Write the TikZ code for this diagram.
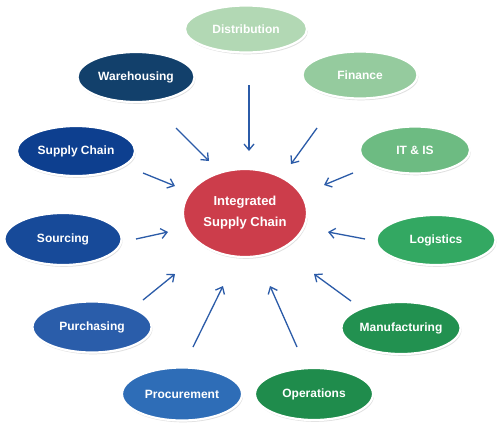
\documentclass[tikz,border=0pt]{standalone}
\usepackage{fontspec}
\setmainfont{Liberation Sans}
\usetikzlibrary{shapes.geometric,arrows.meta,shadows}
\definecolor{cDist}{HTML}{B2D8B4}
\definecolor{cFin}{HTML}{95CB9E}
\definecolor{cIT}{HTML}{6DBB82}
\definecolor{cLog}{HTML}{33A862}
\definecolor{cMan}{HTML}{229150}
\definecolor{cOps}{HTML}{1F8C4C}
\definecolor{cProc}{HTML}{2E6DB7}
\definecolor{cPurch}{HTML}{2A5DAA}
\definecolor{cSrc}{HTML}{174A99}
\definecolor{cSC}{HTML}{0D3F8F}
\definecolor{cWare}{HTML}{12406B}
\definecolor{cCenter}{HTML}{CC3D4B}
\definecolor{cArrow}{HTML}{2B5BA8}
\begin{document}
\begin{tikzpicture}[x=1pt,y=-1pt,
  bubble/.style={ellipse, draw=white, line width=2.2pt, inner sep=0pt,
    text=white, font=\fontsize{12}{14}\selectfont\bfseries,
    minimum width=118pt, minimum height=50pt,
    drop shadow={opacity=0.25, shadow xshift=1pt, shadow yshift=-1.8pt}},
  arr/.style={draw=cArrow, line width=1.3pt, -{Straight Barb[length=6pt,width=10pt]}}]
\useasboundingbox (0,0) rectangle (500,429);
\fill[white] (0,0) rectangle (500,429);

\node[bubble, fill=cCenter, minimum width=124pt, minimum height=88pt,
  font=\fontsize{13}{21}\selectfont\bfseries, align=center] (center) at (245,213) {Integrated\\Supply Chain};

\node[bubble, fill=cDist, minimum width=122pt, minimum height=47pt] (dist) at (246,29) {Distribution};
\node[bubble, fill=cFin, minimum width=115pt, minimum height=47pt] (fin) at (360,75) {Finance};
\node[bubble, fill=cWare, minimum width=117pt, minimum height=50pt] (ware) at (136,77) {Warehousing};
\node[bubble, fill=cIT, minimum width=110pt, minimum height=47pt] (it) at (415,150) {IT \& IS};
\node[bubble, fill=cSC, minimum width=118pt, minimum height=50pt] (sc) at (76,151) {Supply Chain};
\node[bubble, fill=cSrc, minimum width=117pt, minimum height=52pt] (src) at (63,239) {Sourcing};
\node[bubble, fill=cLog, minimum width=119pt, minimum height=50pt] (log) at (436,240) {Logistics};
\node[bubble, fill=cPurch, minimum width=119pt, minimum height=51pt] (purch) at (92,327) {Purchasing};
\node[bubble, fill=cMan, minimum width=119pt, minimum height=52pt] (man) at (401,328) {Manufacturing};
\node[bubble, fill=cProc, minimum width=120pt, minimum height=53pt] (proc) at (182,394) {Procurement};
\node[bubble, fill=cOps, minimum width=118pt, minimum height=52pt] (ops) at (314,394) {Operations};

\coordinate (d1) at (249,85);  \coordinate (d2) at (249,151);
\coordinate (w1) at (176,128); \coordinate (w2) at (209,161);
\coordinate (f1) at (317,128); \coordinate (f2) at (291,164);
\coordinate (s1) at (143,173); \coordinate (s2) at (175,186);
\coordinate (i1) at (353,173); \coordinate (i2) at (324,185);
\coordinate (o1) at (136,239); \coordinate (o2) at (168,232);
\coordinate (l1) at (365,239); \coordinate (l2) at (328,232);
\coordinate (p1) at (143,300); \coordinate (p2) at (175,274);
\coordinate (m1) at (351,301); \coordinate (m2) at (314,274);
\coordinate (r1) at (193,347); \coordinate (r2) at (223,286);
\coordinate (q1) at (297,347); \coordinate (q2) at (270,286);

\draw[arr] (d1) -- (d2);
\draw[arr] (w1) -- (w2);
\draw[arr] (f1) -- (f2);
\draw[arr] (s1) -- (s2);
\draw[arr] (i1) -- (i2);
\draw[arr] (o1) -- (o2);
\draw[arr] (l1) -- (l2);
\draw[arr] (p1) -- (p2);
\draw[arr] (m1) -- (m2);
\draw[arr] (r1) -- (r2);
\draw[arr] (q1) -- (q2);
\end{tikzpicture}
\end{document}
